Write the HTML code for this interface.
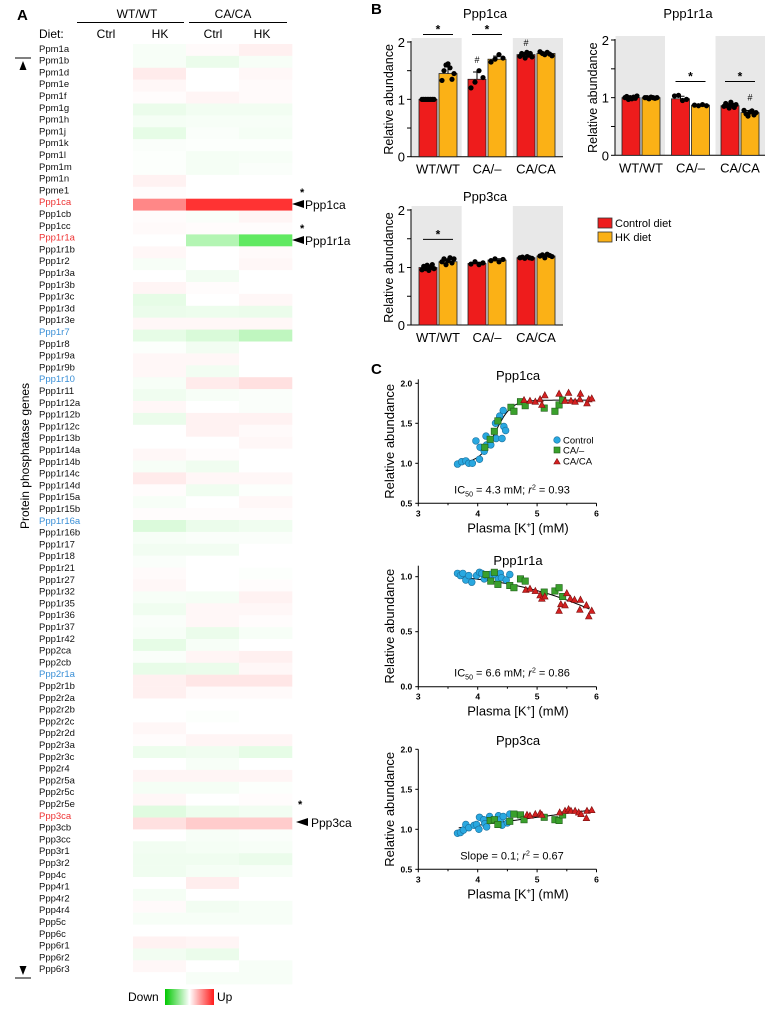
<!DOCTYPE html>
<html><head><meta charset="utf-8">
<style>
html,body{margin:0;padding:0;background:#fff;}
svg{display:block;font-family:"Liberation Sans",Arial,sans-serif;}
</style></head>
<body>
<svg id="fig" width="777" height="1015" viewBox="0 0 777 1015" xmlns="http://www.w3.org/2000/svg">
<defs>
<linearGradient id="grad" x1="0" x2="1" y1="0" y2="0">
<stop offset="0" stop-color="#00c800"/><stop offset="0.5" stop-color="#ffffff"/><stop offset="1" stop-color="#ff1a1a"/>
</linearGradient>
</defs>
<g>
<text x="17" y="20" font-size="15" font-weight="bold">A</text>
<text x="137" y="18" font-size="12" text-anchor="middle">WT/WT</text>
<text x="233" y="18" font-size="12" text-anchor="middle">CA/CA</text>
<line x1="77" y1="22.5" x2="184" y2="22.5" stroke="#000" stroke-width="1"/>
<line x1="189" y1="22.5" x2="287" y2="22.5" stroke="#000" stroke-width="1"/>
<text x="39" y="38" font-size="12">Diet:</text>
<text x="106" y="38" font-size="12" text-anchor="middle">Ctrl</text>
<text x="160" y="38" font-size="12" text-anchor="middle">HK</text>
<text x="213" y="38" font-size="12" text-anchor="middle">Ctrl</text>
<text x="262" y="38" font-size="12" text-anchor="middle">HK</text>
</g>
<text transform="translate(29,456) rotate(-90)" font-size="12" text-anchor="middle">Protein phosphatase genes</text>
<line x1="15" y1="58" x2="31" y2="58" stroke="#000"/>
<polygon points="23,61 19.5,70 26.5,70" fill="#000"/>
<polygon points="23,975 19.5,966 26.5,966" fill="#000"/>
<line x1="15" y1="978" x2="31" y2="978" stroke="#000"/>
<g id="heat"></g>
<g>
<text x="300" y="196" font-size="11" font-weight="bold">*</text>
<polygon points="292,204 304,200 304,208" fill="#000"/>
<text x="305" y="209" font-size="12">Ppp1ca</text>
<text x="300" y="232" font-size="11" font-weight="bold">*</text>
<polygon points="292,240 304,236 304,244" fill="#000"/>
<text x="305" y="245" font-size="12">Ppp1r1a</text>
<text x="298" y="808" font-size="11" font-weight="bold">*</text>
<polygon points="296,822 308,818 308,826" fill="#000"/>
<text x="311" y="827" font-size="12">Ppp3ca</text>
</g>
<g>
<text x="128" y="1001" font-size="12">Down</text>
<rect x="165" y="989" width="49" height="16" fill="url(#grad)"/>
<text x="217" y="1001" font-size="12">Up</text>
</g>
<text x="371" y="14" font-size="15" font-weight="bold">B</text>
<text x="371" y="374" font-size="15" font-weight="bold">C</text>
<g>
<rect x="598" y="218" width="14" height="10" fill="#ee1c1c" stroke="#333" stroke-width="0.8"/>
<text x="615" y="227" font-size="11">Control diet</text>
<rect x="598" y="232" width="14" height="10" fill="#fbb116" stroke="#333" stroke-width="0.8"/>
<text x="615" y="241" font-size="11">HK diet</text>
</g>
<g id="charts"></g>
</svg>
<script>
const genes=["Ppm1a","Ppm1b","Ppm1d","Ppm1e","Ppm1f","Ppm1g","Ppm1h","Ppm1j","Ppm1k","Ppm1l","Ppm1m","Ppm1n","Ppme1","Ppp1ca","Ppp1cb","Ppp1cc","Ppp1r1a","Ppp1r1b","Ppp1r2","Ppp1r3a","Ppp1r3b","Ppp1r3c","Ppp1r3d","Ppp1r3e","Ppp1r7","Ppp1r8","Ppp1r9a","Ppp1r9b","Ppp1r10","Ppp1r11","Ppp1r12a","Ppp1r12b","Ppp1r12c","Ppp1r13b","Ppp1r14a","Ppp1r14b","Ppp1r14c","Ppp1r14d","Ppp1r15a","Ppp1r15b","Ppp1r16a","Ppp1r16b","Ppp1r17","Ppp1r18","Ppp1r21","Ppp1r27","Ppp1r32","Ppp1r35","Ppp1r36","Ppp1r37","Ppp1r42","Ppp2ca","Ppp2cb","Ppp2r1a","Ppp2r1b","Ppp2r2a","Ppp2r2b","Ppp2r2c","Ppp2r2d","Ppp2r3a","Ppp2r3c","Ppp2r4","Ppp2r5a","Ppp2r5c","Ppp2r5e","Ppp3ca","Ppp3cb","Ppp3cc","Ppp3r1","Ppp3r2","Ppp4c","Ppp4r1","Ppp4r2","Ppp4r4","Ppp5c","Ppp6c","Ppp6r1","Ppp6r2","Ppp6r3"];
const redGenes=["Ppp1ca","Ppp1r1a","Ppp3ca"];
const blueGenes=["Ppp1r7","Ppp1r10","Ppp1r16a","Ppp2r1a"];
const wtHK=[-0.03,-0.03,0.08,0.03,0.01,-0.08,-0.04,-0.1,-0.02,-0.01,-0.01,0.05,0.01,0.47,0.01,0.02,0,0.03,-0.03,0,0.04,-0.1,-0.08,0.03,-0.1,-0.01,0.03,0.03,-0.03,-0.06,0.03,-0.08,0,0,0.03,-0.03,0.08,0.01,-0.03,0.01,-0.14,-0.03,-0.05,-0.02,0.02,0.03,-0.03,-0.06,-0.02,-0.03,-0.1,-0.02,-0.09,0.06,0.06,0,0,0.03,0.01,-0.07,0,0.04,-0.04,0.03,-0.12,0.12,0,-0.05,-0.06,-0.06,0,-0.04,0.02,-0.03,0,0.05,-0.05,0.03,0];
const caCtrl=[0.02,-0.08,0,0,0.04,-0.05,-0.03,-0.02,-0.01,-0.04,-0.04,0,0,0.8,-0.02,0.01,-0.3,0,0,-0.05,0.01,0,-0.07,0.03,-0.15,-0.05,0.03,-0.05,0.08,-0.03,0,0.05,0.05,0,0.01,-0.06,0.03,-0.06,0,0.01,-0.08,-0.02,-0.05,0,0,0,-0.04,0.03,0.03,-0.08,-0.03,0.04,-0.08,0.1,0.02,0,-0.01,0,0.04,-0.06,-0.03,0.04,-0.04,0,-0.07,0.2,-0.03,-0.04,-0.06,-0.04,0.07,0,-0.05,-0.03,0,0.04,-0.08,0,-0.03];
const caHK=[0.06,-0.03,0.03,0.02,0.02,-0.05,-0.03,-0.04,-0.01,-0.03,-0.02,0,0,0.8,0.04,0.01,-0.62,0.02,0.03,0,0,0.03,-0.08,0.03,-0.25,0,0,0,0.12,-0.02,-0.02,0.05,0.02,0.03,0,0,0.03,-0.01,0.03,0.01,-0.06,-0.02,0,0,-0.01,0.01,0.05,0.03,0.01,-0.03,0,0.06,0.03,0.1,0.02,0,0,0,0.04,-0.1,0,0.04,-0.01,0.01,-0.05,0.2,-0.02,-0.03,-0.08,-0.03,0,0,-0.03,-0.03,0,0,0,-0.03,-0.03];

const groups=["WT/WT","CA/–","CA/CA"];
const p1caCtrl=[1.0,1.35,1.78], p1caHK=[1.45,1.7,1.8];
const p1r1aCtrl=[1.0,0.98,0.86], p1r1aHK=[1.0,0.87,0.74];
const p3caCtrl=[1.0,1.07,1.17], p3caHK=[1.1,1.13,1.2];
const p1caCtrlDots=[[1,1,1,1,1,1,1,1],[1.2,1.3,1.5,1.38],[1.75,1.8,1.78,1.72,1.82,1.77,1.8,1.74]];
const p1caHKDots=[[1.33,1.5,1.6,1.62,1.55,1.35,1.45],[1.65,1.7,1.78,1.72],[1.83,1.8,1.78,1.82,1.79,1.76]];
const p1r1aCtrlDots=[[1,1.02,0.97,1,0.98,1.01,0.99,1.03],[1.03,1.04,0.95,0.97],[0.85,0.9,0.86,0.82,0.92,0.87,0.83,0.88]];
const p1r1aHKDots=[[1,1,0.98,1.01,1,0.99,1],[0.87,0.86,0.88,0.86],[0.78,0.72,0.68,0.75,0.77,0.7,0.74]];
const p3caCtrlDots=[[0.96,1.02,0.98,1.04,0.95,1,1.05,0.98],[1.06,1.1,1.05,1.08],[1.17,1.18,1.16,1.19,1.17,1.16]];
const p3caHKDots=[[1.1,1.15,1.05,1.12,1.17,1.08,1.15],[1.12,1.15,1.1,1.14],[1.2,1.22,1.17,1.23,1.21,1.19]];
const yTicksB=[0,1,2];

const xTicksC=[3,4,5,6];
const s1CtrlK=[3.66,3.73,3.80,3.85,3.91,3.97,4.03,4.04,4.11,4.14,4.15,4.22,4.30,4.31,4.37,4.41,4.43,4.44,4.47];
const s1CtrlV=[0.99,1.02,1.03,1.00,1.00,1.28,1.05,1.20,1.15,1.34,1.23,1.23,1.50,1.31,1.59,1.31,1.66,1.46,1.41];
const s1CaK=[4.12,4.21,4.28,4.34,4.56,4.61,4.72,4.80,5.12,5.30,5.37,5.43];
const s1CaV=[1.20,1.30,1.40,1.53,1.70,1.65,1.77,1.72,1.69,1.65,1.73,1.79];
const s1CcK=[4.78,4.88,4.97,5.05,5.08,5.13,5.37,5.53,5.47,5.57,5.64,5.72,5.73,5.84,5.87,5.92];
const s1CcV=[1.79,1.78,1.77,1.80,1.73,1.85,1.87,1.88,1.78,1.78,1.77,1.80,1.87,1.75,1.80,1.81];
const s2CtrlK=[3.66,3.71,3.75,3.80,3.85,3.90,3.98,4.03,4.07,4.11,4.15,4.21,4.29,4.35,4.38,4.40,4.48,4.54];
const s2CtrlV=[1.03,1.01,1.03,0.97,1.01,0.95,1.01,1.04,1.03,0.98,1.01,1.02,1.02,0.98,1.03,0.99,0.97,1.02];
const s2CaK=[4.14,4.22,4.28,4.34,4.54,4.61,4.72,4.80,5.12,5.30,5.37,5.43];
const s2CaV=[1.02,0.96,1.04,0.93,0.92,0.90,0.98,0.96,0.86,0.87,0.90,0.82];
const s2CcK=[4.81,4.88,4.97,5.05,5.08,5.13,5.37,5.40,5.47,5.50,5.56,5.63,5.72,5.73,5.83,5.87,5.92];
const s2CcV=[0.88,0.89,0.87,0.83,0.80,0.82,0.69,0.75,0.74,0.85,0.80,0.79,0.70,0.79,0.74,0.64,0.69];
const s3CtrlK=[3.66,3.71,3.76,3.80,3.85,3.94,3.98,4.03,4.02,4.10,4.12,4.15,4.20,4.35,4.38,4.41,4.43,4.50,4.54];
const s3CtrlV=[0.95,0.96,0.99,1.06,1.02,1.05,1.06,1.15,1.00,1.12,1.07,1.03,1.16,1.17,1.12,1.05,1.16,1.08,1.19];
const s3CaK=[4.21,4.28,4.34,4.54,4.61,4.72,4.78,5.12,5.30,5.37,5.43];
const s3CaV=[1.11,1.12,1.06,1.10,1.19,1.18,1.12,1.15,1.12,1.11,1.18];
const s3CcK=[4.83,4.88,4.97,5.05,5.08,5.38,5.47,5.53,5.57,5.64,5.70,5.74,5.83,5.84,5.92];
const s3CcV=[1.18,1.17,1.19,1.20,1.18,1.21,1.23,1.25,1.23,1.23,1.21,1.19,1.14,1.23,1.24];
const fit1=[1.0,1.79,4.3,7.5];
const fit2=[0,1.05,6.6,1.0];
const fit3=[1.02,0.1,3.7];

const NS="http://www.w3.org/2000/svg";
function mk(tag,parent,attrs){const e=document.createElementNS(NS,tag);for(const k in attrs)e.setAttribute(k,attrs[k]);parent.appendChild(e);return e;}
function heatColor(v){
  if(v>=0){const c=Math.round(255*(1-Math.min(v,1)));return `rgb(255,${c},${c})`;}
  const a=Math.min(-v,1);const c=Math.round(255*(1-a));const g=Math.round(255-35*a);return `rgb(${c},${g},${c})`;
}
const heat=document.getElementById('heat');
const cols=[wtHK,caCtrl,caHK];
const colNames=["wt-hk","ca-ctrl","ca-hk"];
genes.forEach((g,i)=>{
  const t=mk('text',heat,{x:39,y:(48.3+i*11.8+3.5).toFixed(1),'font-size':9.5,fill:redGenes.includes(g)?'#ee3333':(blueGenes.includes(g)?'#3a8fd6':'#111')});
  t.textContent=g;
  
  
  cols.forEach((arr,j)=>{
    const r=mk('rect',heat,{x:133+j*53,y:(44+i*11.9).toFixed(2),width:53.3,height:12.1,fill:heatColor(arr[i])});
    
    
  });
});

const charts=document.getElementById('charts');
function sd(a){const m=a.reduce((s,x)=>s+x,0)/a.length;return Math.sqrt(a.reduce((s,x)=>s+(x-m)*(x-m),0)/Math.max(1,a.length-1));}
function barChart(name,title,titleY,x0,x1,yTop,y0,ctrl,hk,ctrlDots,hkDots,spacing,first,sig,hashes){
  const g=mk('g',charts,{});
  
  
  const ys=v=>y0-(y0-yTop)*v/2;
  const gw=(x1-x0)/3;
  [0,2].forEach(k=>{
    const b=mk('rect',g,{x:x0+k*gw+0.5,y:yTop-4,width:gw-0.5,height:y0-yTop+4,fill:'#e8e8e8'});
    
    
  });
  const tt=mk('text',g,{x:(x0+x1)/2-2,y:titleY,'font-size':13,'text-anchor':'middle'});tt.textContent=title;
  
  
  const yl=mk('text',g,{transform:`translate(${x0-18},${(yTop+y0)/2}) rotate(-90)`,'font-size':12.5,'text-anchor':'middle'});yl.textContent='Relative abundance';
  
  
  mk('line',g,{x1:x0,y1:yTop-1,x2:x0,y2:y0,stroke:'#000','stroke-width':1});
  mk('line',g,{x1:x0,y1:y0,x2:x1,y2:y0,stroke:'#000','stroke-width':1});
  [0,0.5,1,1.5,2].forEach(v=>mk('line',g,{x1:x0-4,y1:ys(v),x2:x0,y2:ys(v),stroke:'#000'}));
  yTicksB.forEach(v=>{const t=mk('text',g,{x:x0-6,y:ys(v)+5,'font-size':13,'text-anchor':'end'});t.textContent=v;
    
    });
  groups.forEach((lab,i)=>{
    const c=x0+first+i*spacing;
    [[ctrl,ctrlDots,'#ee1c1c',-19,'control'],[hk,hkDots,'#fbb116',1,'hk']].forEach(([vals,dots,col,off,nm])=>{
      const r=mk('rect',g,{x:c+off,y:ys(vals[i]),width:18,height:y0-ys(vals[i]),fill:col,stroke:'#222','stroke-width':0.8});
      
      
      const e=sd(dots[i]);const cx=c+off+9;
      mk('line',g,{x1:cx,y1:ys(vals[i]+e),x2:cx,y2:ys(vals[i]),stroke:'#000'});
      mk('line',g,{x1:cx-4,y1:ys(vals[i]+e),x2:cx+4,y2:ys(vals[i]+e),stroke:'#000'});
      const n=dots[i].length;
      dots[i].forEach((d,k)=>{const dot=mk('circle',g,{cx:cx-6+(n>1?12*k/(n-1):6),cy:ys(d),r:2.6,fill:'#000'});
        
        });
    });
    const t=mk('text',g,{x:c,y:y0+17,'font-size':13,'text-anchor':'middle'});t.textContent=lab;
    
    
  });
  sig.forEach(([i,v])=>{const c=x0+first+i*spacing;
    mk('line',g,{x1:c-15,y1:ys(v),x2:c+15,y2:ys(v),stroke:'#000'});
    const s=mk('text',g,{x:c,y:ys(v)-1,'font-size':12,'font-weight':'bold','text-anchor':'middle'});s.textContent='*';
    
    });
  hashes.forEach(([i,off,v])=>{const c=x0+first+i*spacing+off;
    const s=mk('text',g,{x:c,y:ys(v),'font-size':9,'text-anchor':'middle'});s.textContent='#';
    
    });
}
barChart('ppp1ca','Ppp1ca',18,411,563,42,156.7,p1caCtrl,p1caHK,p1caCtrlDots,p1caHKDots,49,27,[[0,2.13],[1,2.13]],[[1,-10,1.63],[2,-10,1.93]]);
barChart('ppp1r1a','Ppp1r1a',18,615,765,40,155.3,p1r1aCtrl,p1r1aHK,p1r1aCtrlDots,p1r1aHKDots,49.5,26,[[1,1.28],[2,1.28]],[[2,10,0.95]]);
barChart('ppp3ca','Ppp3ca',201,411,563,210,325,p3caCtrl,p3caHK,p3caCtrlDots,p3caHKDots,49,27,[[0,1.49]],[]);

function scatter(name,title,titleY,yOf,yMin,yMax,yAxisTop,yStep,annot,sets,curve){
  const x0=418.3,sx=59.4;const xs=k=>x0+(k-3)*sx;
  const g=mk('g',charts,{});
  
  
  const yb=yOf(yMin),yt=yOf(yAxisTop);
  const tt=mk('text',g,{x:518,y:titleY,'font-size':13,'text-anchor':'middle'});tt.textContent=title;
  
  
  mk('line',g,{x1:x0,y1:yt,x2:x0,y2:yb,stroke:'#000'});
  mk('line',g,{x1:x0,y1:yb,x2:xs(6),y2:yb,stroke:'#000'});
  for(let v=yMin;v<=yMax+1e-6;v+=yStep){mk('line',g,{x1:x0-3,y1:yOf(v),x2:x0,y2:yOf(v),stroke:'#000'});
    const t=mk('text',g,{x:x0-6,y:yOf(v)+3,'font-size':8.5,'font-weight':'bold','text-anchor':'end'});t.textContent=v.toFixed(1);
    
    }
  xTicksC.forEach(k=>{mk('line',g,{x1:xs(k),y1:yb,x2:xs(k),y2:yb+3,stroke:'#000'});
    if(k<6)mk('line',g,{x1:xs(k+0.5),y1:yb,x2:xs(k+0.5),y2:yb+2,stroke:'#000'});
    const t=mk('text',g,{x:xs(k),y:yb+13,'font-size':8.5,'font-weight':'bold','text-anchor':'middle'});t.textContent=k;
    
    });
  const xl=mk('text',g,{x:518,y:yb+29,'font-size':13,'text-anchor':'middle'});
  xl.innerHTML='Plasma [K<tspan font-size="8" dy="-5">+</tspan><tspan dy="5">] (mM)</tspan>';
  
  
  const yl=mk('text',g,{transform:`translate(${394},${(yt+yb)/2}) rotate(-90)`,'font-size':13,'text-anchor':'middle'});yl.textContent='Relative abundance';
  
  
  const pts=[];for(let k=3.68;k<=5.92;k+=0.04)pts.push(xs(k).toFixed(1)+','+yOf(curve(k)).toFixed(1));
  const pl=mk('polyline',g,{points:pts.join(' '),fill:'none',stroke:'#000','stroke-width':1});
  
  
  sets.forEach(([K,V,shape])=>{K.forEach((k,i)=>{const x=xs(k),y=yOf(V[i]);let m;
    if(shape==='c')m=mk('circle',g,{cx:x,cy:y,r:3.4,fill:'#29a8e0',stroke:'#1b6f9c','stroke-width':0.6});
    else if(shape==='s')m=mk('rect',g,{x:x-3.2,y:y-3.2,width:6.4,height:6.4,fill:'#3aa02c',stroke:'#1f5e18','stroke-width':0.6});
    else m=mk('polygon',g,{points:`${x},${y-3.6} ${x-3.3},${y+2.6} ${x+3.3},${y+2.6}`,fill:'#d42020',stroke:'#7a1010','stroke-width':0.6});
    
    });});
  const an=mk('text',g,{x:512,y:yb-10,'font-size':11,'text-anchor':'middle'});an.innerHTML=annot;
  
  
}
scatter('ppp1ca','Ppp1ca',380,v=>383.3+(2-v)*80,0.5,2.0,2.05,0.5,'IC<tspan font-size="7" dy="3">50</tspan><tspan dy="-3"> = 4.3 mM; </tspan><tspan font-style="italic">r</tspan><tspan font-size="7" dy="-4">2</tspan><tspan dy="4"> = 0.93</tspan>',
  [[s1CtrlK,s1CtrlV,'c'],[s1CaK,s1CaV,'s'],[s1CcK,s1CcV,'t']],k=>fit1[0]+(fit1[1]-fit1[0])/(1+Math.exp(-fit1[3]*(k-fit1[2]))));
scatter('ppp1r1a','Ppp1r1a',565,v=>686.7-v*110,0,1.0,1.1,0.5,'IC<tspan font-size="7" dy="3">50</tspan><tspan dy="-3"> = 6.6 mM; </tspan><tspan font-style="italic">r</tspan><tspan font-size="7" dy="-4">2</tspan><tspan dy="4"> = 0.86</tspan>',
  [[s2CtrlK,s2CtrlV,'c'],[s2CaK,s2CaV,'s'],[s2CcK,s2CcV,'t']],k=>fit2[0]+(fit2[1]-fit2[0])/(1+Math.exp(fit2[3]*(k-fit2[2]))));
scatter('ppp3ca','Ppp3ca',745,v=>749.3+(2-v)*80,0.5,2.0,2.0,0.5,'Slope = 0.1; <tspan font-style="italic">r</tspan><tspan font-size="7" dy="-4">2</tspan><tspan dy="4"> = 0.67</tspan>',
  [[s3CtrlK,s3CtrlV,'c'],[s3CaK,s3CaV,'s'],[s3CcK,s3CcV,'t']],k=>fit3[0]+fit3[1]*(k-fit3[2]));
const lg=mk('g',charts,{});


mk('circle',lg,{cx:557,cy:440,r:3.3,fill:'#29a8e0',stroke:'#1b6f9c','stroke-width':0.6});
mk('rect',lg,{x:554,y:447,width:6,height:6,fill:'#3aa02c',stroke:'#1f5e18','stroke-width':0.6});
mk('polygon',lg,{points:'557,458.5 553.8,464 560.2,464',fill:'#d42020',stroke:'#7a1010','stroke-width':0.6});
[['Control',443.5],['CA/–',453.5],['CA/CA',464.5]].forEach(([s,y])=>{const t=mk('text',lg,{x:563,y:y,'font-size':9.5});t.textContent=s;
  
  });
</script>
</body></html>
